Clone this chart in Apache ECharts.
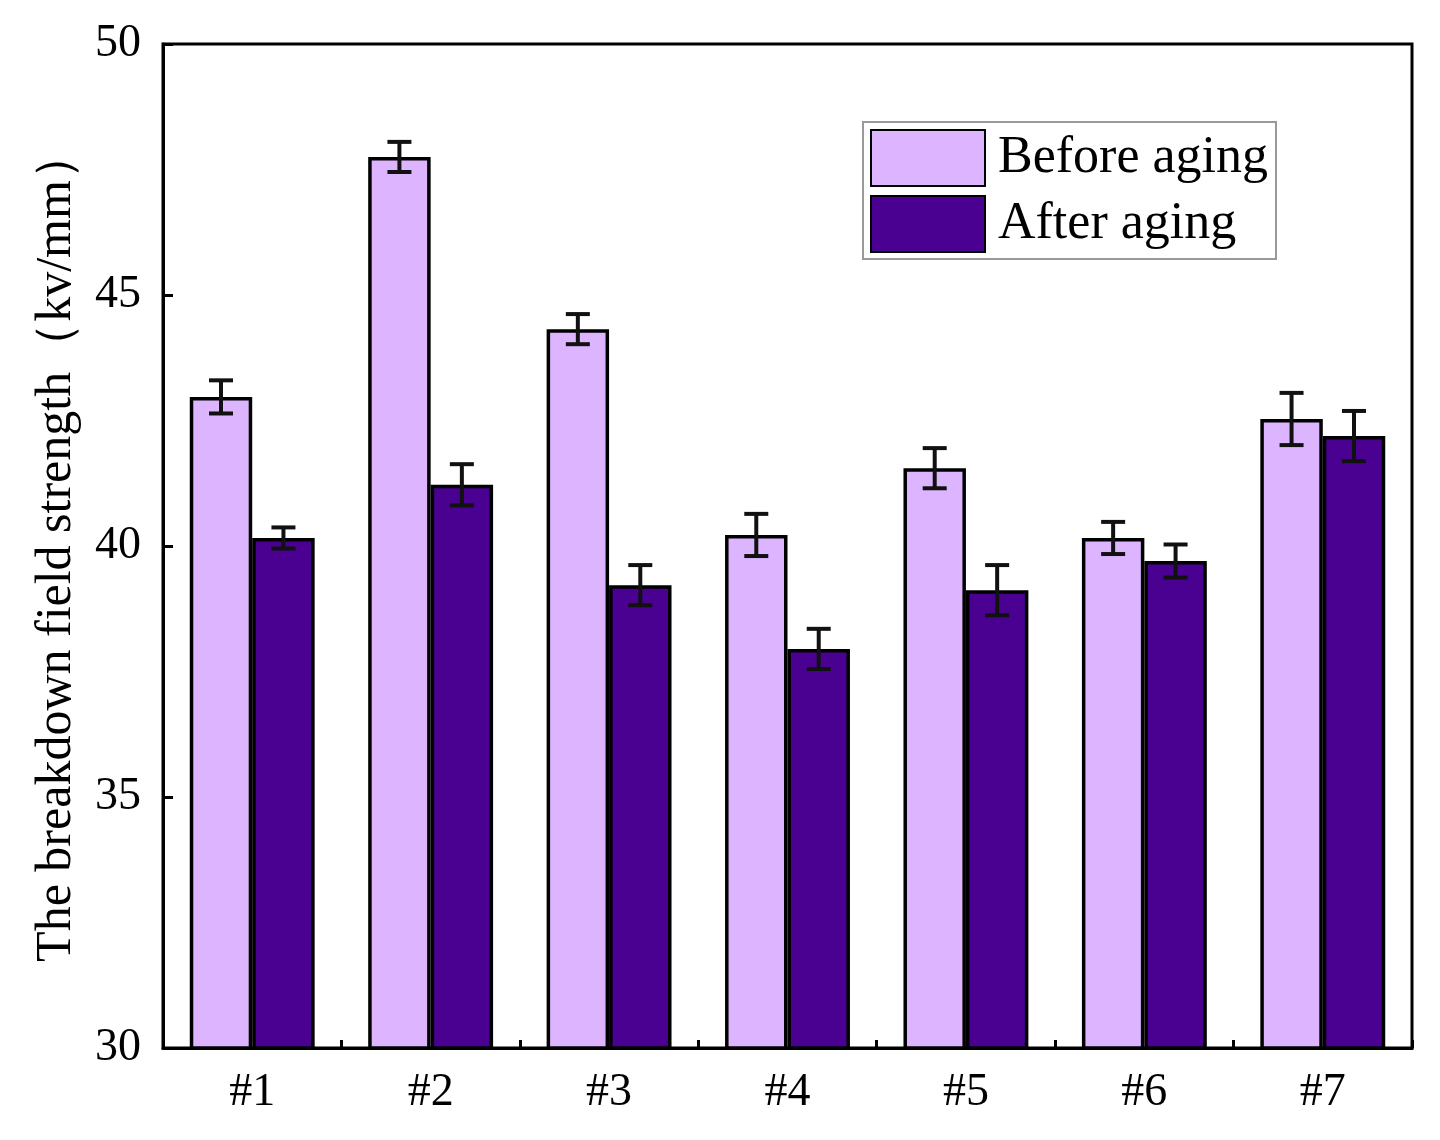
<!DOCTYPE html>
<html><head><meta charset="utf-8">
<script src="https://cdn.jsdelivr.net/npm/echarts@6/dist/echarts.min.js"></script>
<style>html,body{margin:0;padding:0;background:#fff}#c{width:1440px;height:1140px}</style>
</head><body><div id="c"></div>
<script>
var categories = ['#1','#2','#3','#4','#5','#6','#7'];
var beforeValues = [42.97, 47.75, 44.32, 40.22, 41.55, 40.16, 42.53];
var beforeErrors = [0.33, 0.30, 0.30, 0.42, 0.40, 0.32, 0.52];
var afterValues = [40.16, 41.22, 39.22, 37.95, 39.12, 39.70, 42.19];
var afterErrors = [0.21, 0.41, 0.40, 0.40, 0.50, 0.33, 0.50];
var yTicks = [30, 35, 40, 45, 50];

var FONT = '"Liberation Serif", "DejaVu Serif", serif';
var BAR_FRAC = 0.35;

function errData(vals, errs) {
  return vals.map(function (v, i) { return [i, v, errs[i]]; });
}
function makeErr(sign) {
  return function (params, api) {
    var i = api.value(0), v = api.value(1), e = api.value(2);
    var band = api.size([1, 0])[0];
    var off = sign * band * BAR_FRAC / 2;
    var top = api.coord([i, v + e]);
    var bot = api.coord([i, v - e]);
    var x = top[0] + off;
    var hw = 12;
    var st = { stroke: '#111', lineWidth: 4 };
    return { type: 'group', children: [
      { type: 'line', shape: { x1: x, y1: top[1], x2: x, y2: bot[1] }, style: st },
      { type: 'line', shape: { x1: x - hw, y1: top[1], x2: x + hw, y2: top[1] }, style: st },
      { type: 'line', shape: { x1: x - hw, y1: bot[1], x2: x + hw, y2: bot[1] }, style: st }
    ]};
  };
}

var chart = echarts.init(document.getElementById('c'));
chart.setOption({
  animation: false,
  backgroundColor: '#fff',
  grid: { left: 163, right: 28, top: 44, bottom: 92, show: true, borderColor: '#000', borderWidth: 3, backgroundColor: 'transparent' },
  legend: {
    data: ['Before aging', 'After aging'],
    orient: 'vertical',
    left: 863, top: 122,
    icon: 'rect',
    itemWidth: 114, itemHeight: 56, itemGap: 8,
    padding: [7, 8, 6, 7],
    borderColor: '#999', borderWidth: 2,
    backgroundColor: '#fff',
    textStyle: { fontFamily: FONT, fontSize: 52, color: '#000', padding: [0, 0, 0, 8] }
  },
  xAxis: {
    type: 'category', data: categories,
    axisLine: { show: true, lineStyle: { color: '#000', width: 3 } },
    axisTick: { show: true, inside: true, length: 8, lineStyle: { color: '#000', width: 3 } },
    axisLabel: { fontFamily: FONT, fontSize: 46, color: '#000', margin: 22 },
    splitLine: { show: false }
  },
  yAxis: {
    type: 'value', min: 30, max: 50, interval: 5,
    name: 'The breakdown field strength（kv/mm）',
    nameLocation: 'middle', nameGap: 81, nameRotate: 90,
    nameTextStyle: { fontFamily: FONT, fontSize: 50, color: '#000' },
    axisLine: { show: true, lineStyle: { color: '#000', width: 3 } },
    axisTick: { show: true, inside: true, length: 10, lineStyle: { color: '#000', width: 3 } },
    axisLabel: { fontFamily: FONT, fontSize: 46, color: '#000', margin: 22,
      formatter: function (v) { return yTicks.indexOf(v) >= 0 ? String(v) : ''; } },
    splitLine: { show: false }
  },
  series: [
    { name: 'Before aging', type: 'bar', data: beforeValues, barWidth: (BAR_FRAC * 100) + '%', barGap: '0%',
      itemStyle: { color: '#DDB4FF', borderColor: '#000', borderWidth: 3.5 } },
    { name: 'After aging', type: 'bar', data: afterValues, barWidth: (BAR_FRAC * 100) + '%', barGap: '0%',
      itemStyle: { color: '#4A0090', borderColor: '#000', borderWidth: 3.5 } },
    { type: 'custom', renderItem: makeErr(-1), data: errData(beforeValues, beforeErrors), z: 10, silent: true },
    { type: 'custom', renderItem: makeErr(1), data: errData(afterValues, afterErrors), z: 10, silent: true }
  ]
});
</script></body></html>
